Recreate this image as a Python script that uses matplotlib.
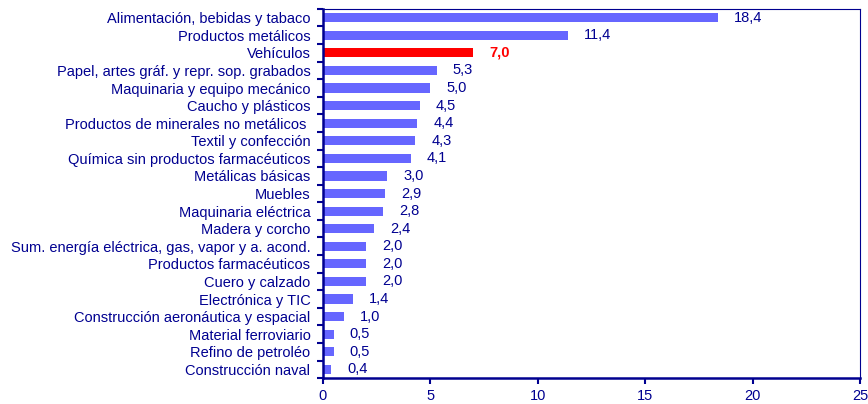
import matplotlib
matplotlib.use("Agg")
import matplotlib.pyplot as plt
import numpy as np

NAVY = "#000090"
BAR = "#6666FF"
RED = "#FF0000"

categories = [
    "Alimentación, bebidas y tabaco",
    "Productos metálicos",
    "Vehículos",
    "Papel, artes gráf. y repr. sop. grabados",
    "Maquinaria y equipo mecánico",
    "Caucho y plásticos",
    "Productos de minerales no metálicos ",
    "Textil y confección",
    "Química sin productos farmacéuticos",
    "Metálicas básicas",
    "Muebles",
    "Maquinaria eléctrica",
    "Madera y corcho",
    "Sum. energía eléctrica, gas, vapor y a. acond.",
    "Productos farmacéuticos",
    "Cuero y calzado",
    "Electrónica y TIC",
    "Construcción aeronáutica y espacial",
    "Material ferroviario",
    "Refino de petroléo",
    "Construcción naval",
]
values = [18.4, 11.4, 7.0, 5.3, 5.0, 4.5, 4.4, 4.3, 4.1, 3.0, 2.9,
          2.8, 2.4, 2.0, 2.0, 2.0, 1.4, 1.0, 0.5, 0.5, 0.4]
highlight = "Vehículos"

plt.rcParams["font.family"] = ["Liberation Sans", "DejaVu Sans"]

fig = plt.figure(figsize=(8.68, 4.04), dpi=100)
ax = fig.add_axes([0.372, 0.064, 0.619, 0.914])

y = np.arange(len(categories))
colors = [RED if c == highlight else BAR for c in categories]
ax.barh(y, values, height=0.52, color=colors)

for yi, v, c in zip(y, values, categories):
    hl = c == highlight
    ax.annotate(f"{v:.1f}".replace(".", ","), (v, yi), xytext=(11.5, 0),
                textcoords="offset points", va="center", ha="left",
                fontsize=10.5, color=RED if hl else NAVY,
                fontweight="bold" if hl else "normal")

ax.set_ylim(len(categories) - 0.5, -0.5)
ax.set_xlim(0, 25)
ax.set_xticks(range(0, 26, 5))
ax.set_yticks(y)
ax.set_yticklabels(categories)
ax.set_yticks(np.arange(-0.5, len(categories), 1), minor=True)
ax.tick_params(axis="y", which="major", length=0, pad=9, labelsize=10.5,
               labelcolor=NAVY)
ax.tick_params(axis="y", which="minor", length=4, width=1.5, color=NAVY)
ax.tick_params(axis="x", length=4, width=1.5, color=NAVY, labelsize=10.5,
               labelcolor=NAVY, pad=4)
for s in ("top", "right"):
    ax.spines[s].set_color(NAVY)
    ax.spines[s].set_linewidth(0.8)
for s in ("left", "bottom"):
    ax.spines[s].set_color(NAVY)
    ax.spines[s].set_linewidth(1.8)

fig.savefig("out.png", dpi=100)
